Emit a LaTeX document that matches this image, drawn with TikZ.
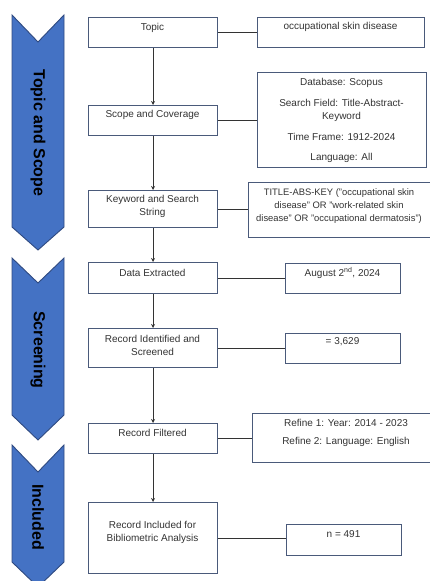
\documentclass[tikz,border=0pt]{standalone}
\usepackage{fontspec}
\setmainfont{Liberation Sans}
\usetikzlibrary{arrows.meta}
\definecolor{chevfill}{HTML}{4472C4}
\definecolor{chevline}{HTML}{2F4A80}
\definecolor{boxline}{HTML}{4A5A7A}
\definecolor{txtcol}{HTML}{333333}
\tikzset{
  chev/.style={fill=chevfill, draw=chevline, line width=0.9pt, line join=miter},
  chevtxt/.style={rotate=-90, font=\fontsize{16}{18}\selectfont\bfseries, text=black, inner sep=0pt},
  box/.style={draw=boxline, line width=1.2pt, fill=white, inner sep=0pt, anchor=north west},
  txt/.style={font=\fontsize{10}{13}\selectfont, text=txtcol, align=center, inner sep=0pt},
  flow/.style={draw=black!80, line width=0.8pt, -{Stealth[length=4pt,width=4pt]}},
  link/.style={draw=black!80, line width=0.8pt}
}
\newcommand{\mkbox}[5]{\node[box, minimum width=#4pt-#2pt, minimum height=#5pt-#3pt] (#1) at (#2,#3) {};}
\begin{document}
\begin{tikzpicture}[x=1pt,y=-1pt]
\useasboundingbox (0,0) rectangle (430,581);
% chevrons
\draw[chev] (12,15) -- (38,42) -- (64,15) -- (64,227) -- (38,250) -- (12,227) -- cycle;
\draw[chev] (12,258) -- (38,283) -- (64,258) -- (64,415) -- (38,440) -- (12,415) -- cycle;
\draw[chev] (12,445) -- (38,472) -- (64,445) -- (64,562) -- (38,587) -- (12,562) -- cycle;
\node[chevtxt] (c1) at (38,133) {Topic and Scope};
\node[chevtxt] (c2) at (38,350) {Screening};
\node[chevtxt] (c3) at (38,517) {Included};
% main boxes
\mkbox{topic}{88}{17}{217}{47}
\mkbox{scope}{88}{105}{217}{135}
\mkbox{kw}{88}{190}{217}{227}
\mkbox{data}{88}{262}{217}{293}
\mkbox{ident}{88}{328}{217}{367}
\mkbox{filt}{88}{423}{217}{453}
\mkbox{incl}{88}{502}{217}{573}
% right boxes
\mkbox{r1}{257}{17}{424}{47}
\mkbox{r2}{257}{72}{426}{167}
\mkbox{r3}{248}{182}{434}{237}
\mkbox{r4}{285}{263}{400}{293}
\mkbox{r5}{285}{333}{400}{363}
\mkbox{r6}{252}{413}{434}{462}
\mkbox{r7}{286}{524}{401}{555}
% texts main
\node[txt] (ttopic) at (152.5,28) {Topic};
\node[txt] (tscope) at (152.5,115) {Scope and Coverage};
\node[txt] (tkw) at (152.5,206.5) {Keyword and Search\\String};
\node[txt] (tdata) at (152.5,273) {Data Extracted};
\node[txt] (tident) at (152.5,345.5) {Record Identified and\\Screened};
\node[txt] (tfilt) at (152.5,433) {Record Filtered};
\node[txt] (tincl) at (152.5,532.5) {Record Included for\\Bibliometric Analysis};
% texts right
\node[txt] (tr1) at (340.5,27) {occupational skin disease};
\node[txt] (tr2a) at (341.5,83) {Database: Scopus};
\node[txt] (tr2b) at (341.5,110) {Search Field: Title-Abstract-\\Keyword};
\node[txt] (tr2c) at (341.5,137) {Time Frame: 1912-2024};
\node[txt] (tr2d) at (341.5,158) {Language: All};
\node[txt, font=\fontsize{9.4}{12.6}\selectfont] (tr3) at (339,206) {TITLE-ABS-KEY ("occupational skin\\disease" OR "work-related skin\\disease" OR "occupational dermatosis")};
\node[txt] (tr4) at (342.5,273) {August 2\textsuperscript{nd}, 2024};
\node[txt] (tr5) at (342.5,342) {= 3,629};
\node[txt] (tr6a) at (346,423) {Refine 1: Year: 2014 - 2023};
\node[txt] (tr6b) at (346,442) {Refine 2: Language: English};
\node[txt] (tr7) at (343.5,534) {n = 491};
% flow arrows
\draw[flow] (topic.south) -- (scope.north);
\draw[flow] (scope.south) -- (kw.north);
\draw[flow] (kw.south) -- (data.north);
\draw[flow] (data.south) -- (ident.north);
\draw[flow] (ident.south) -- (filt.north);
\draw[flow] (filt.south) -- (incl.north);
% links
\draw[link] (topic.east) -- (topic.east -| r1.west);
\draw[link] (scope.east) -- (scope.east -| r2.west);
\draw[link] (kw.east) -- (kw.east -| r3.west);
\draw[link] (data.east) -- (data.east -| r4.west);
\draw[link] (ident.east) -- (ident.east -| r5.west);
\draw[link] (filt.east) -- (filt.east -| r6.west);
\draw[link] (incl.east) -- (incl.east -| r7.west);
\end{tikzpicture}
\end{document}
